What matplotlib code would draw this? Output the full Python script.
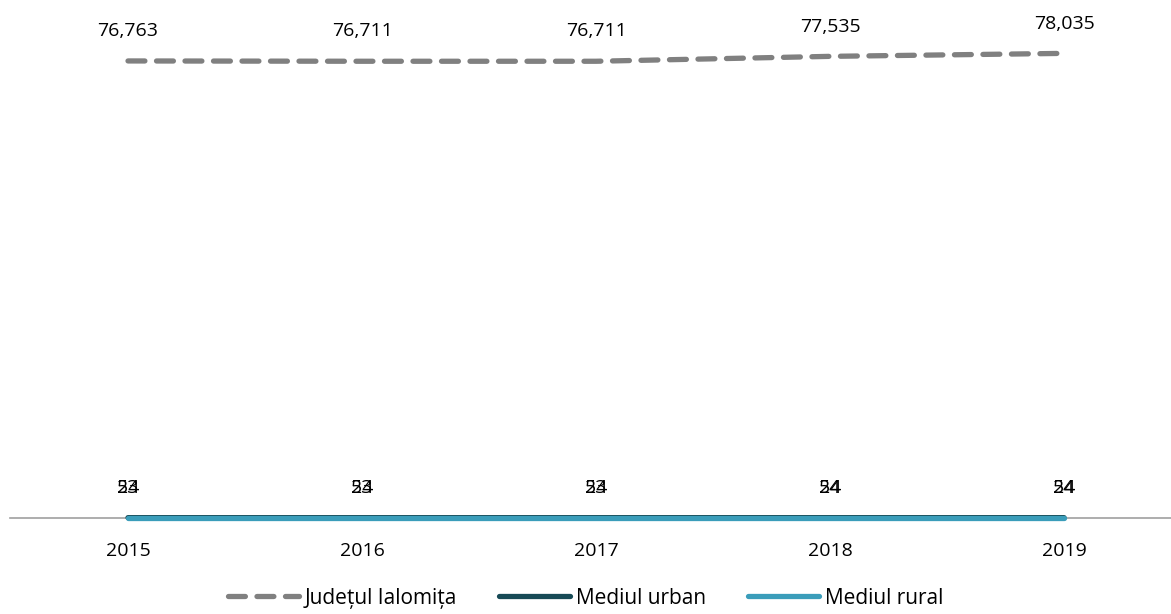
import numpy as np
import matplotlib.pyplot as plt

years = ['2015', '2016', '2017', '2018', '2019']
judet = [76763, 76711, 76711, 77535, 78035]
urban = [53, 53, 53, 54, 54]
rural = [24, 24, 24, 24, 24]

plt.rcParams['font.family'] = ['Open Sans', 'DejaVu Sans']

fig = plt.figure(figsize=(11.71, 6.14), dpi=100)
ax = fig.add_axes([0.0, 0.1564, 1.0, 0.8436])
x = np.arange(len(years))

ax.plot(x, judet, color='#808080', lw=3.8, ls=(0, (3.2, 2.2)), dash_capstyle='round',
        label='Județul Ialomița', clip_on=False)
ax.plot(x, urban, color='#174A56', lw=3.8, label='Mediul urban', solid_capstyle='round',
        clip_on=False, zorder=3)
ax.plot(x, rural, color='#3A9DBA', lw=3.8, label='Mediul rural', solid_capstyle='round',
        clip_on=False, zorder=4)

for xi, v in zip(x, judet):
    ax.annotate(f'{v:,}', (xi, v), xytext=(0, 15), textcoords='offset points',
                ha='center', va='bottom', fontsize=14)
for xi, v in zip(x, urban):
    ax.annotate(str(v), (xi, v), xytext=(0, 15), textcoords='offset points',
                ha='center', va='bottom', fontsize=14)
for xi, v in zip(x, rural):
    ax.annotate(str(v), (xi, v), xytext=(0, 15), textcoords='offset points',
                ha='center', va='bottom', fontsize=14)

ax.set_xlim(-0.547, 4.457)
ax.set_ylim(0, 87000)
ax.set_xticks(x)
ax.set_xticklabels(years, fontsize=14)
ax.tick_params(axis='x', length=0, pad=17)
ax.set_yticks([])
for s in ['top', 'right', 'left']:
    ax.spines[s].set_visible(False)
ax.spines['bottom'].set_color('#A0A0A0')
ax.spines['bottom'].set_linewidth(1.2)
ax.spines['bottom'].set_bounds(-0.504, 4.457)

fig.legend(loc='lower center', bbox_to_anchor=(0.5, -0.022), ncol=3, frameon=False,
           fontsize=15, handlelength=3.4, columnspacing=2.0, handletextpad=0.3)

fig.savefig('out.png', dpi=100)
